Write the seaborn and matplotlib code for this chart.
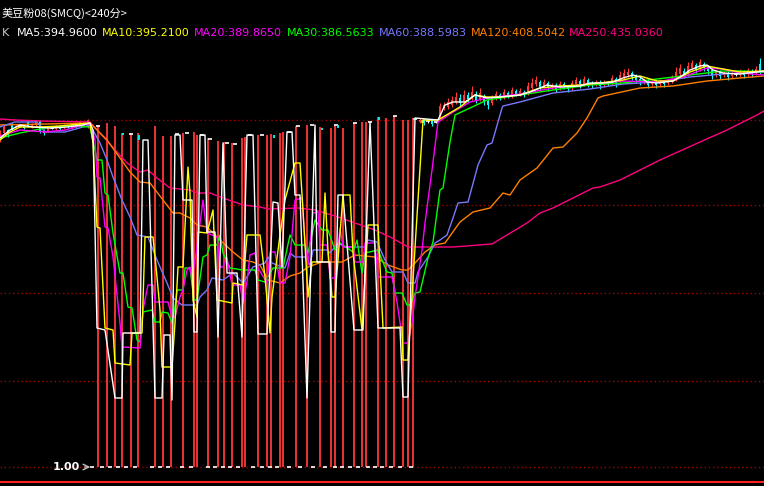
import matplotlib
matplotlib.use("Agg")
import matplotlib.pyplot as plt
import numpy as np
import seaborn as sns

# 240-minute bars, x = bar number, y = price
title = "美豆粉08(SMCQ)<240分>"
ma_labels = ["MA5:394.9600", "MA10:395.2100", "MA20:389.8650", "MA30:386.5633",
             "MA60:388.5983", "MA120:408.5042", "MA250:435.0360"]
ma_colors = ["#ffffff", "#ffff00", "#ff00ff", "#00ff00", "#7878ff", "#ff8000", "#ff0080"]
label_px = [17, 102, 194, 287, 379, 471, 569]

grid_levels = [1.0, 87.0, 175.0, 263.0, 348.0]

# normal candles before and after the broken stretch
left_idx = np.arange(0, 46, 2)
left_open = [328, 335, 338, 343, 340, 342, 343, 346, 341, 343, 347, 338, 337, 340, 339, 342, 340, 342, 340, 343, 343, 344, 341]
left_close = [336, 341, 333, 339, 342, 342, 340, 342, 344, 347, 337, 335, 340, 340, 342, 339, 343, 341, 344, 341, 346, 344, 348]
left_high = [338, 343, 339, 345, 343, 343, 343, 348, 345, 348, 348, 339, 341, 341, 343, 343, 344, 343, 345, 344, 347, 345, 349]
left_low = [326, 333, 331, 338, 339, 341, 339, 341, 340, 342, 335, 333, 336, 339, 338, 338, 339, 340, 339, 340, 342, 343, 340]

right_idx = np.arange(210, 382, 2)
right_open = [346, 348, 347, 348, 346, 352, 360, 361, 363, 366, 370, 366, 373, 370, 374, 369, 372, 367, 365, 370,
              373, 371, 375, 372, 377, 374, 376, 375, 380, 384, 386, 382, 385, 381, 383, 380, 384, 381, 380, 384,
              387, 384, 388, 385, 384, 386, 383, 385, 385, 389, 386, 391, 393, 395, 392, 389, 386, 387, 384, 386,
              384, 386, 385, 387, 389, 394, 397, 394, 400, 403, 399, 404, 401, 398, 393, 396, 393, 395, 392, 394,
              393, 396, 394, 397, 395, 404]
right_close = [348, 345, 347, 344, 346, 362, 363, 366, 368, 371, 365, 373, 369, 376, 368, 375, 366, 363, 370, 374,
               370, 376, 372, 378, 374, 377, 373, 382, 385, 388, 381, 386, 380, 383, 379, 384, 381, 379, 385, 388,
               383, 389, 384, 383, 386, 382, 386, 385, 390, 384, 393, 395, 396, 391, 388, 386, 388, 383, 386, 383,
               387, 384, 388, 390, 396, 400, 393, 402, 405, 398, 406, 400, 397, 392, 396, 392, 395, 391, 394, 394,
               397, 393, 398, 394, 399, 397]
right_high = [350, 349, 348, 349, 347, 365, 366, 370, 372, 376, 374, 378, 376, 382, 377, 380, 374, 369, 373, 377,
              375, 379, 377, 381, 379, 380, 378, 386, 390, 392, 388, 389, 387, 385, 385, 387, 386, 383, 388, 391,
              389, 392, 390, 387, 388, 388, 388, 387, 393, 391, 397, 399, 400, 397, 394, 391, 390, 389, 388, 388,
              389, 388, 390, 393, 401, 404, 400, 406, 408, 405, 409, 406, 403, 400, 398, 398, 397, 397, 396, 396,
              399, 398, 400, 399, 402, 410]
right_low = [345, 343, 345, 342, 345, 350, 358, 359, 361, 364, 362, 364, 366, 368, 365, 367, 363, 359, 363, 368,
             368, 369, 370, 370, 372, 372, 371, 373, 378, 382, 378, 380, 377, 379, 376, 378, 379, 376, 378, 382,
             380, 382, 381, 380, 382, 379, 381, 383, 383, 381, 384, 389, 391, 388, 385, 383, 384, 380, 382, 380,
             382, 381, 383, 385, 387, 392, 390, 392, 398, 395, 397, 397, 394, 389, 391, 389, 391, 388, 390, 392,
             391, 390, 392, 391, 393, 394]

# broken stretch: bars opening at 1.00 and closing at the normal price
spike_idx = [49, 53.5, 57.5, 61, 65.5, 69, 77.5, 81.5, 85.5, 91.5, 97, 98.5, 104, 109, 112, 116, 121, 122.5, 129, 133.5,
             135.5, 140, 141.5, 148, 153.5, 160, 165.5, 167.5, 171.5, 177, 181, 183, 189, 193, 197, 201.5, 204, 206.5]
spike_high = [343, 345, 342, 335, 335, 335, 342, 332, 332, 335, 336, 333, 330, 327, 326, 325, 330, 331, 333, 333,
              334, 335, 336, 342, 343, 341, 340, 343, 340, 345, 346, 346, 351, 350, 352, 348, 348, 350]
floor_idx = [46, 51, 55, 59, 63, 67.5, 76, 80, 84, 91, 95.5, 104, 107.5, 111.5, 115, 119, 126.5, 131, 135, 138.5,
             144.5, 150, 156.5, 162.5, 167.5, 171, 175, 179, 184, 187.5, 191, 195.5, 200, 205.5]
doji_idx = [49, 65.5, 88.5, 93.5, 101, 105, 113.5, 117.5, 125, 131, 144.5, 149, 156, 168, 177.5, 185, 197.5, 207.5]
doji_price = [342, 334, 334, 335, 333, 329, 325, 324, 333, 333, 336, 342, 343, 343, 345, 346, 352, 349]
cyan_idx = [61.5, 69.5, 137, 161, 169, 189.5, 207, 211]
cyan_lo = [333, 328, 330, 338, 340, 348, 348, 345]
cyan_hi = [335, 333, 333, 340, 343, 351, 350, 348]

# moving averages
ma5_x = [0, 5, 10, 16.5, 25, 33.5, 41.5, 45, 46.5, 48.5, 52.5, 57.5, 61, 61.5, 70, 71.5, 74, 77.5, 81, 82, 85, 86, 87.5,
         90, 91.5, 96, 97, 98.5, 100, 102.5, 103.5, 107.5, 109, 111.5, 113.5, 118.5, 121, 123.5, 126.5, 129, 133.5,
         136.5, 139, 141, 143.5, 146, 147.5, 150, 153.5, 157.5, 158.5, 165, 165.5, 167.5, 169, 171.5, 177, 181.5,
         185, 189, 200, 201.5, 204, 207.5, 219, 222.5, 226.5, 232.5, 237.5, 243.5, 250, 260, 265, 270, 273.5, 280,
         290, 295, 301.5, 306.5, 311.5, 316.5, 320, 323.5, 328.5, 336.5, 341.5, 345, 350, 353.5, 356.5, 361.5, 370,
         378.5, 382]
ma5_y = [330, 338, 343, 341, 340, 341, 343, 345, 338, 140, 138, 70, 70, 135, 135, 328, 328, 70, 70, 133, 133, 68, 333,
         333, 268, 268, 136, 136, 333, 333, 236, 236, 131, 325, 195, 195, 131, 333, 333, 134, 134, 266, 265, 201, 336,
         336, 273, 273, 70, 343, 206, 206, 136, 136, 273, 273, 138, 138, 346, 140, 140, 71, 71, 350, 348, 363, 366,
         366, 373, 370, 371, 373, 376, 380, 383, 381, 382, 385, 385, 386, 390, 393, 391, 386, 385, 387, 393, 398, 402,
         403, 398, 395, 394, 396, 397]

ma10_x = [0, 5, 10, 20, 30, 45, 46.5, 48.5, 50, 52.5, 56.5, 57.5, 65, 66, 71, 72.5, 76.5, 78.5, 80, 81, 86, 87.5, 89,
          91.5, 94, 95, 96.5, 98.5, 99, 103.5, 106.5, 108.5, 116, 116.5, 121.5, 123.5, 130, 132.5, 135, 136, 140,
          142.5, 147.5, 150, 151.5, 154, 156, 161, 162.5, 164, 166, 167.5, 169, 171.5, 175, 176.5, 181, 184, 189,
          191.5, 201, 201.5, 204, 211.5, 219, 230, 237.5, 243.5, 250, 260, 270, 280, 290, 300, 311.5, 320, 328.5,
          336.5, 345, 353.5, 361.5, 370, 382]
ma10_y = [328, 336, 341, 341, 342, 345, 325, 241, 240, 140, 138, 105, 103, 135, 135, 231, 231, 191, 158, 101, 101, 145,
          201, 201, 301, 275, 168, 151, 236, 235, 258, 168, 165, 185, 183, 233, 233, 191, 135, 171, 233, 268, 305, 305,
          258, 171, 206, 206, 275, 218, 171, 171, 208, 273, 273, 215, 138, 243, 243, 140, 141, 108, 108, 348, 348, 361,
          373, 371, 371, 373, 380, 382, 383, 385, 388, 392, 387, 387, 396, 402, 399, 396, 397]

ma20_x = [0, 10, 22.5, 32.5, 45, 47.5, 48.5, 50, 52.5, 54, 56.5, 60, 61, 70, 71.5, 74, 76.5, 77.5, 84, 86, 87.5, 90,
          91.5, 93.5, 95, 96, 98.5, 101.5, 103.5, 108.5, 110, 111.5, 113.5, 116, 120, 121.5, 123.5, 125, 127.5, 129,
          133.5, 135, 137.5, 140, 142.5, 145, 147.5, 151, 152.5, 154, 156.5, 159, 160, 163.5, 165, 167.5, 170, 171.5,
          176.5, 177.5, 181.5, 182.5, 187.5, 189, 196, 198.5, 201.5, 204, 206, 207.5, 211, 212.5, 216, 219, 226.5,
          235, 243.5, 260, 276.5, 295, 311.5, 328.5, 341.5, 353.5, 361.5, 370, 382]
ma20_y = [332, 338, 336, 338, 345, 328, 291, 290, 241, 240, 211, 145, 121, 120, 158, 183, 183, 166, 166, 151, 151, 171,
          178, 198, 201, 188, 221, 268, 235, 231, 201, 201, 210, 183, 183, 165, 186, 213, 215, 200, 185, 216, 216, 185,
          185, 211, 268, 270, 225, 203, 255, 256, 223, 223, 190, 190, 240, 221, 221, 206, 206, 225, 225, 191, 191, 166,
          125, 125, 145, 171, 218, 245, 298, 346, 356, 366, 370, 374, 380, 384, 387, 386, 391, 400, 399, 395, 393]

ma30_x = [0, 10, 25, 35, 45, 47.5, 48.5, 51, 52.5, 54, 56.5, 60, 61.5, 64, 66, 68.5, 70, 71.5, 76, 77.5, 80, 81, 84, 86,
          87.5, 88.5, 91.5, 92.5, 95, 97, 98.5, 101.5, 103.5, 105, 108.5, 110, 111.5, 115, 121.5, 127.5, 129, 132.5,
          136.5, 141.5, 145, 147.5, 152.5, 154, 157.5, 161, 164, 167.5, 170, 176.5, 178.5, 181, 182.5, 189, 193.5,
          196, 197.5, 201, 203.5, 205, 207.5, 210, 214, 216.5, 220, 221.5, 225, 227.5, 235, 243.5, 260, 276.5, 295,
          311.5, 328.5, 345, 361.5, 370, 382]
ma30_y = [330, 335, 341, 342, 341, 318, 308, 308, 275, 273, 235, 195, 195, 161, 160, 128, 126, 156, 158, 146, 146, 156,
          155, 145, 161, 178, 178, 200, 200, 168, 168, 211, 213, 223, 223, 233, 215, 200, 198, 198, 188, 186, 200, 200,
          233, 223, 223, 215, 248, 238, 238, 218, 225, 216, 228, 195, 215, 218, 196, 195, 175, 175, 163, 163, 175, 176,
          210, 226, 278, 280, 326, 353, 360, 368, 373, 378, 383, 385, 389, 393, 397, 397, 396]

ma60_x = [0, 7.5, 18.5, 22.5, 32.5, 45, 50, 53.5, 56.5, 61, 65, 68.5, 74, 78.5, 83.5, 86.5, 91, 98.5, 100, 103.5, 106,
          111.5, 116.5, 121.5, 126.5, 132.5, 134, 136, 142.5, 145, 147.5, 152.5, 155, 156.5, 163.5, 165, 169, 172.5,
          182.5, 184, 188.5, 192.5, 196, 201.5, 204, 207.5, 209, 214, 217.5, 220, 223.5, 226.5, 229, 234, 239, 243.5,
          246, 251, 251.5, 260, 276.5, 295, 311.5, 328.5, 345, 361.5, 382]
ma60_y = [341, 346, 346, 336, 336, 343, 325, 308, 291, 268, 251, 233, 231, 208, 185, 170, 163, 163, 171, 178, 190, 188,
          195, 185, 201, 205, 211, 205, 200, 215, 211, 211, 203, 218, 218, 215, 225, 221, 221, 228, 226, 208, 196, 196,
          185, 185, 196, 211, 225, 228, 233, 250, 265, 266, 303, 323, 325, 360, 362, 366, 375, 379, 384, 386, 391, 394,
          396]

ma120_x = [0, 22.5, 45, 53.5, 60, 65, 70, 75, 81.5, 86.5, 90, 95, 98.5, 103.5, 110, 116.5, 121.5, 126.5, 130, 134, 140,
           145, 150, 154, 161, 171, 177.5, 187.5, 194, 201, 204, 207.5, 212.5, 217.5, 222.5, 230, 236.5, 245, 251.5,
           255, 260, 268.5, 276.5, 281.5, 288.5, 293.5, 299, 301.5, 320, 336.5, 353.5, 370, 382]
ma120_y = [343, 344, 345, 328, 310, 296, 286, 285, 268, 255, 255, 250, 243, 241, 228, 216, 208, 206, 203, 188, 185, 192,
           195, 201, 206, 206, 213, 211, 203, 198, 198, 205, 216, 223, 225, 246, 256, 260, 275, 273, 288, 300, 320, 321,
           335, 350, 370, 372, 380, 382, 387, 390, 392]

ma250_x = [0, 7.5, 20, 45, 50, 58.5, 63.5, 70, 74, 78.5, 85, 95, 98.5, 105, 111.5, 121.5, 130, 134, 149, 157.5, 169,
           177.5, 187.5, 196, 204, 226.5, 246, 253.5, 263.5, 270, 276.5, 283.5, 291.5, 296.5, 300, 310, 330, 350,
           363.5, 371.5, 378.5, 382]
ma250_y = [349, 348, 347, 346, 335, 316, 305, 296, 298, 290, 280, 278, 275, 275, 270, 263, 261, 259, 260, 258, 251, 245,
           238, 230, 221, 221, 224, 233, 245, 255, 260, 267, 275, 280, 281, 288, 308, 326, 338, 346, 353, 357]

RED = "#ff3838"
CYAN = "#00ffff"

sns.set_style("dark", {"axes.facecolor": "black", "figure.facecolor": "black"})
plt.rcParams['font.family'] = ['Noto Sans CJK SC', 'DejaVu Sans']

fig = plt.figure(figsize=(7.64, 4.86), dpi=100, facecolor="black")
ax = fig.add_axes([0, 4 / 486, 1, 437 / 486])
ax.set_facecolor("black")

# grid
for lv in grid_levels:
    ax.axhline(lv, color="#a00000", lw=1, ls=(0, (1, 2)), zorder=1)


def draw_candles(idx, o, c, hi, lo):
    idx = np.asarray(idx, dtype=float)
    o, c = np.asarray(o, dtype=float), np.asarray(c, dtype=float)
    hi, lo = np.asarray(hi, dtype=float), np.asarray(lo, dtype=float)
    up, dn, eq = c > o, c < o, c == o
    ax.vlines(idx[up], lo[up], hi[up], color=RED, lw=0.8, zorder=2)
    ax.vlines(idx[dn], lo[dn], hi[dn], color=CYAN, lw=0.8, zorder=2)
    ax.vlines(idx[eq], lo[eq], hi[eq], color="white", lw=0.8, zorder=2)
    ax.vlines(idx[up], o[up], c[up], color=RED, lw=1.5, zorder=2)
    ax.vlines(idx[dn], c[dn], o[dn], color=CYAN, lw=1.5, zorder=2)
    ax.scatter(idx[eq], c[eq], marker="_", color="white", s=10, lw=1.2, zorder=2)


draw_candles(left_idx, left_open, left_close, left_high, left_low)
draw_candles(right_idx, right_open, right_close, right_high, right_low)

# broken bars
ax.vlines(spike_idx, 1.0, spike_high, color=RED, lw=1.3, zorder=2)
ax.scatter(floor_idx, np.ones(len(floor_idx)), marker="_", color="white", s=10, lw=1.2, zorder=2)
ax.scatter(doji_idx, doji_price, marker="_", color="white", s=10, lw=1.2, zorder=2)
ax.vlines(cyan_idx, cyan_lo, cyan_hi, color=CYAN, lw=1.3, zorder=2)

# moving averages (longest first so MA5 ends up on top)
ma_series = [(ma5_x, ma5_y), (ma10_x, ma10_y), (ma20_x, ma20_y), (ma30_x, ma30_y),
             (ma60_x, ma60_y), (ma120_x, ma120_y), (ma250_x, ma250_y)]
for (xs, ys), col in reversed(list(zip(ma_series, ma_colors))):
    sns.lineplot(x=xs, y=ys, ax=ax, color=col, lw=1.0, sort=False, estimator=None, legend=False, zorder=3)

ax.set_xlim(0, 382)
ax.set_ylim(-14, 423)
ax.set_xticks([])
ax.set_yticks([])
ax.set_xlabel("")
ax.set_ylabel("")
for side in ["top", "left", "right"]:
    ax.spines[side].set_visible(False)
ax.spines["bottom"].set_color("#ff2020")
ax.spines["bottom"].set_linewidth(1.5)

# price label for the floor line
ax.text(40, 1.0, "1.00", ha="right", va="center", color="white", fontsize=8, fontweight="bold",
        family="DejaVu Sans", zorder=4)
ax.annotate("", xy=(46.5, 1.0), xytext=(41, 1.0),
            arrowprops=dict(arrowstyle="->", color="#c0c0c0", lw=1), zorder=4)

# header
fig.text(2 / 764, 1 - 13 / 486, title, color="white", fontsize=8, ha="left", va="center")
fig.text(2 / 764, 1 - 33 / 486, "K", color="#c8c8c8", fontsize=8, ha="left", va="center", family="DejaVu Sans")
for lab, px, col in zip(ma_labels, label_px, ma_colors):
    fig.text(px / 764, 1 - 33 / 486, lab, color=col, fontsize=8, ha="left", va="center", family="DejaVu Sans")

fig.savefig("out.png", dpi=100, facecolor="black")
